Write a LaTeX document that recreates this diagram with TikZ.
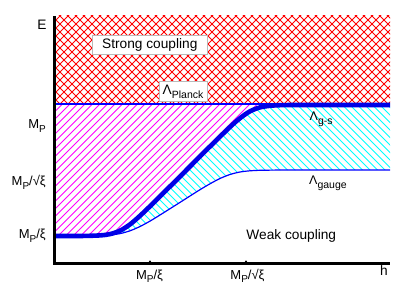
\documentclass[tikz,border=0pt]{standalone}
\usepackage{fontspec}
\setmainfont{Liberation Sans}
\definecolor{hmag}{RGB}{255,0,255}
\definecolor{hcyan}{RGB}{0,255,255}
\definecolor{hred}{RGB}{255,0,0}
\definecolor{hblue}{RGB}{0,0,255}
\definecolor{tblue}{RGB}{0,0,230}
\newcommand\mysub[1]{\raisebox{-3.5pt}{\fontsize{10}{11}\selectfont #1}}
\newcommand\lamsub[1]{\raisebox{-3.8pt}{\fontsize{10.5}{12}\selectfont #1}}
\tikzset{
  axislabel/.style={font=\fontsize{13}{15}\selectfont, inner sep=0pt},
  biglabel/.style={font=\fontsize{13.7}{16}\selectfont, inner sep=0pt},
  lamlabel/.style={font=\fontsize{12.5}{14}\selectfont, inner sep=0pt},
  labelbox/.style={draw=gray!55, fill=white, line width=0.8pt, inner sep=0pt},
  hatchline/.style={line width=0.85pt},
  axisline/.style={line width=3pt, black},
  thickcurve/.style={line width=4.6pt, tblue},
  thincurve/.style={line width=1.2pt, hblue},
}
\begin{document}
\begin{tikzpicture}[x=1pt,y=-1pt]
\useasboundingbox (0,0) rectangle (415,291);
% red cross-hatched region
\begin{scope}
\clip (54,16) rectangle (390,104);
\foreach \c in {60,68,...,500} \draw[hatchline, hred] (\c,0) -- ++(-150,150);
\foreach \c in {-60,-52,...,380} \draw[hatchline, hred] (\c,0) -- ++(150,150);
\end{scope}
% magenta region
\begin{scope}
\clip (54,104) -- (54,236) -- plot[smooth] coordinates {(54,236) (80,236) (100,235.4) (110,234.1) (120,230.7) (130,224.4) (140,215.8) (150,206.3) (160,196.4) (170,186.5) (190,166.5) (210,146.5) (230,127) (240,118.2) (250,111.3) (260,107.4) (270,105.8) (280,105.2) (300,105) (390,105)} -- (390,104) -- cycle;
\foreach \c in {151.5,159,...,660} \draw[hatchline, hmag] (\c,0) -- ++(-300,300);
\end{scope}
% cyan region
\begin{scope}
\clip plot[smooth] coordinates {(54,236) (80,236) (100,235.4) (110,234.1) (120,230.7) (130,224.4) (140,215.8) (150,206.3) (160,196.4) (170,186.5) (190,166.5) (210,146.5) (230,127) (240,118.2) (250,111.3) (260,107.4) (270,105.8) (280,105.2) (300,105) (390,105)} -- plot[smooth] coordinates {(390,170) (300,170) (275,170.1) (260,170.3) (250,170.8) (240,172) (230,174.5) (220,178.5) (210,183.8) (200,189.7) (190,196) (180,202.4) (170,208.7) (160,215) (150,221.1) (140,226.5) (130,230.8) (120,233.6) (110,235) (100,235.6) (54,236)} -- cycle;
\foreach \c in {-190,-182.5,...,300} \draw[hatchline, hcyan] (\c,0) -- ++(300,300);
\end{scope}
% Planck line
\coordinate (pl0) at (54,104);
\coordinate (pl1) at (390,104);
\draw[hblue, line width=1.1pt] (pl0) -- (pl1);
% gauge
\draw[thincurve] plot[smooth] coordinates {(54,236) (100,235.6) (110,235) (120,233.6) (130,230.8) (140,226.5) (150,221.1) (160,215) (170,208.7) (180,202.4) (190,196) (200,189.7) (210,183.8) (220,178.5) (230,174.5) (240,172) (250,170.8) (260,170.3) (275,170.1) (300,170) (390,170)};
% g-s
\draw[thickcurve] plot[smooth] coordinates {(54,236) (80,236) (100,235.4) (110,234.1) (120,230.7) (130,224.4) (140,215.8) (150,206.3) (160,196.4) (170,186.5) (190,166.5) (210,146.5) (230,127) (240,118.2) (250,111.3) (260,107.4) (270,105.8) (280,105.2) (300,105) (390,105)};
% axes
\coordinate (ytop) at (54,16);
\coordinate (orig) at (54,263);
\coordinate (xend) at (390,263);
\draw[axisline] (ytop) -- (orig) -- (xend);
\fill[black] (150,261.5) circle (1.2pt);
\fill[black] (246,261.5) circle (1.2pt);
% boxes
\node[labelbox, minimum width=115pt, minimum height=19pt] (strong) at (149.5,44.5) {};
\node[biglabel] (strongtxt) at (149.8,44.5) {Strong coupling};
\node[labelbox, minimum width=48pt, minimum height=20pt] (planck) at (183,91) {};
\node[biglabel, anchor=base west] (plancktxt) at (162.5,94.3) {Λ\lamsub{Planck}};
% labels
\node[lamlabel, anchor=base west] (lgs) at (309.5,120.6) {Λ\lamsub{g-s}};
\node[lamlabel, anchor=base west] (lgauge) at (309,185) {Λ\lamsub{gauge}};
\node[biglabel, anchor=base] (weak) at (291.3,240) {Weak coupling};
\node[biglabel, anchor=base] (hlab) at (384,276) {h};
\node[biglabel, anchor=base] (elab) at (42,29.3) {E};
\node[axislabel, anchor=base east] (ymp) at (46,129) {M\mysub{P}};
\node[axislabel, anchor=base east] (ymps) at (46,186) {M\mysub{P}/√ξ};
\node[axislabel, anchor=base east] (ympx) at (46,239) {M\mysub{P}/ξ};
\node[axislabel, anchor=base] (xmpx) at (149.5,279) {M\mysub{P}/ξ};
\node[axislabel, anchor=base] (xmps) at (247.5,279) {M\mysub{P}/√ξ};
\end{tikzpicture}
\end{document}
